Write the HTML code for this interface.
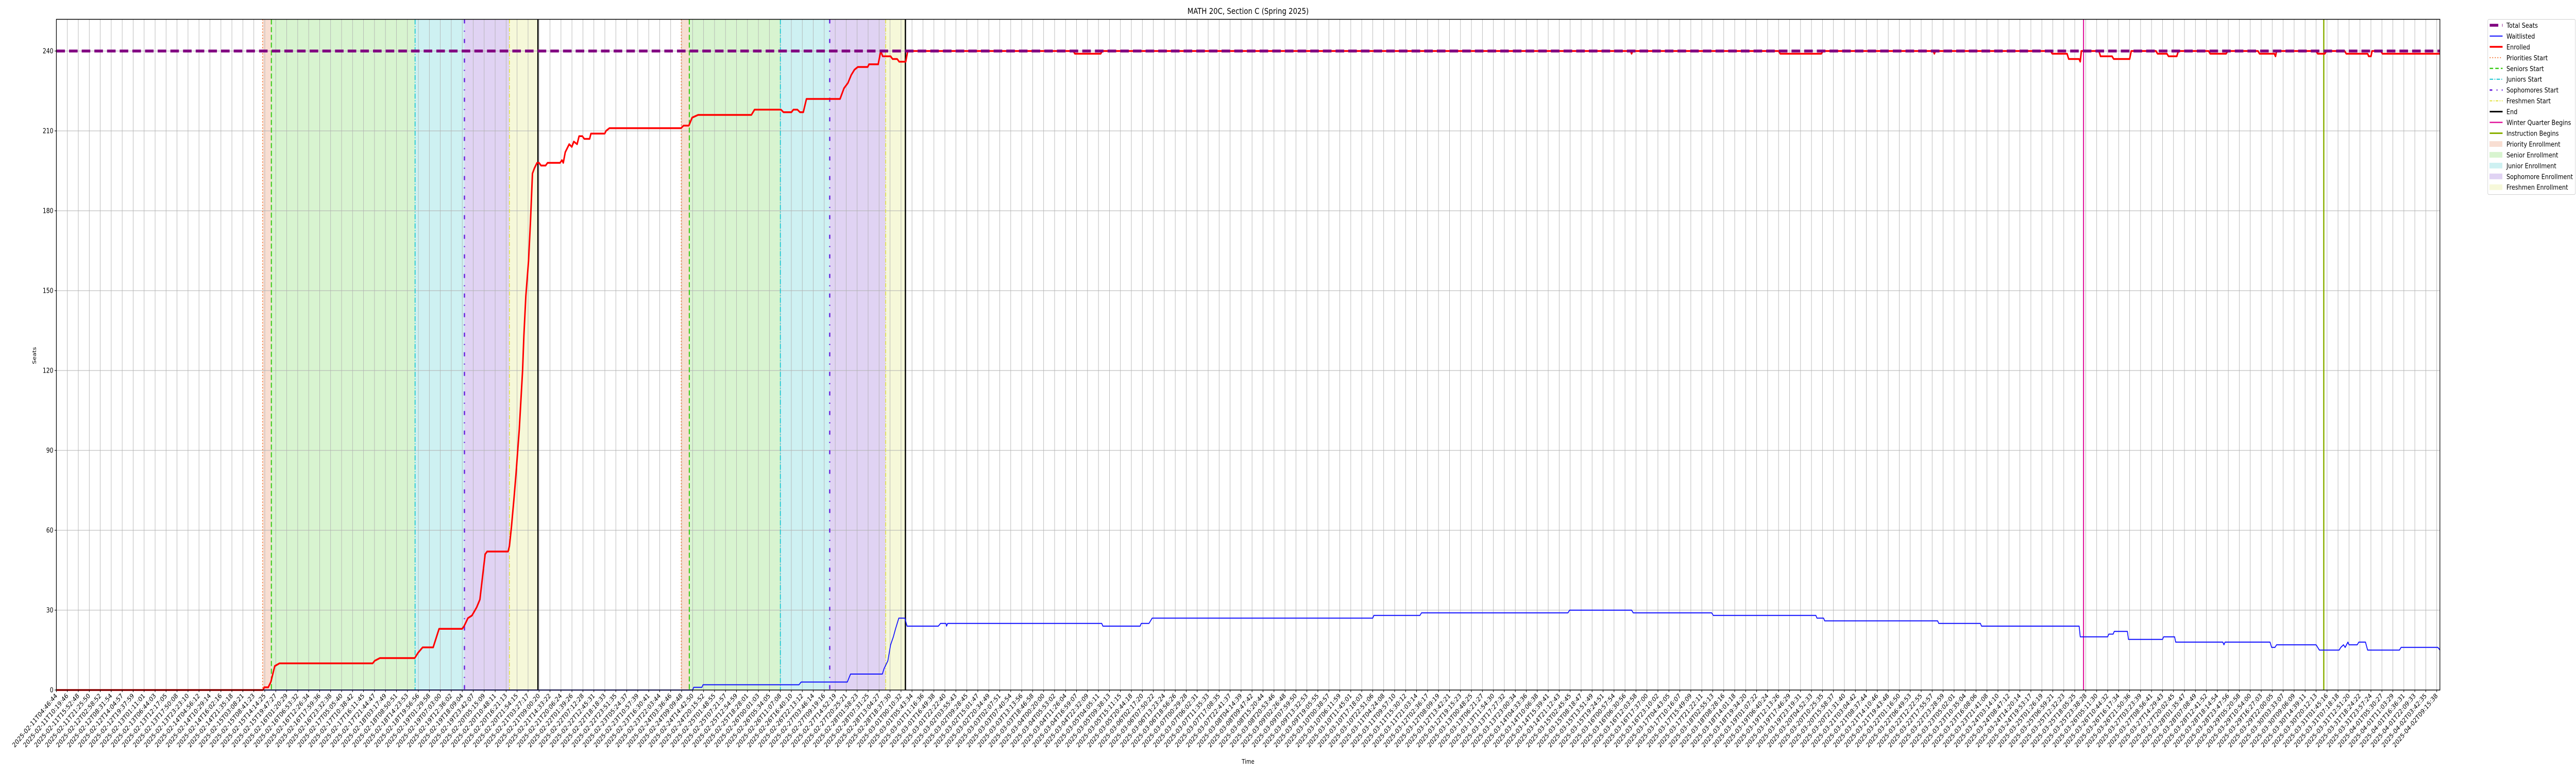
<!DOCTYPE html>
<html><head><meta charset="utf-8">
<style>
html,body{margin:0;padding:0;background:#fff;width:100%;height:100%;overflow:hidden;}
svg{display:block;font-family:"DejaVu Sans","Liberation Sans",sans-serif;overflow:hidden;width:100vw;height:100vh;}
</style></head>
<body>
<svg id="chart" viewBox="0 0 6000 1500" preserveAspectRatio="none" xmlns="http://www.w3.org/2000/svg">
<rect x="0" y="0" width="6000" height="1500" fill="#fff"/>
<text x="2907" y="27" font-size="16" text-anchor="middle" fill="#000">MATH 20C, Section C (Spring 2025)</text>
<text x="84" y="690" font-size="12" text-anchor="middle" transform="rotate(-90 84 690)" fill="#000">Seats</text>
<text x="2907" y="1482" font-size="12" text-anchor="middle" fill="#000">Time</text>
<g id="spans"></g><g id="grid"></g><g id="events"></g><g id="series"></g><g id="axes"></g><g id="legend"></g>
</svg>
<script>
// ---- data ----
const yTicks = [0,30,60,90,120,150,180,210,240];
const tickStartLabel = ["2025-02-11T04:46:44"];
const tickEndLabel = ["2025-04-02T09:15:38"];
const tickCount = [218];
const totalSeats = [240];
const eventNames = ["Priorities Start","Seniors Start","Juniors Start","Sophomores Start","Freshmen Start","End"];
const cycle1Events = [18.8,19.6,32.7,37.2,41.3,43.9];
const cycle2Events = [56.97,57.7,66.0,70.5,75.6,77.4];
const winterStart = [184.8];
const instructionStart = [206.7];
const eIdx = [0,18.83,18.95,19.31,19.55,19.91,20.33,28.83,29.02,29.49,
32.67,32.97,33.39,34.35,34.89,36.99,37.17,37.52,37.89,38.31,
38.61,38.78,39.09,39.27,41.18,41.30,41.48,41.72,41.90,42.20,
42.50,42.62,42.80,43.04,43.22,43.40,43.58,43.82,44.00,44.18,
44.60,44.78,45.91,46.09,46.21,46.39,46.75,46.99,47.17,47.47,
47.65,47.95,48.13,48.61,48.73,49.99,50.11,50.41,56.94,57.18,
57.66,57.96,58.50,63.36,63.65,66.05,66.29,67.01,67.19,67.55,
67.79,68.09,68.38,71.44,71.80,72.16,72.46,72.76,73.06,73.96,
74.08,74.92,75.15,75.33,76.05,76.23,76.65,76.83,77.43,77.61,
92.70,92.85,95.20,95.35,143.5,143.6,143.7,157.0,157.15,160.9,
161.05,171.1,171.2,171.3,181.8,181.95,183.3,183.45,184.4,184.5,
184.6,186.2,186.35,187.4,187.55,189.0,189.15,191.4,191.55,192.4,
192.55,193.3,193.45,196.2,196.35,197.8,197.95,200.7,200.85,202.2,
202.3,202.4,206.0,206.15,206.8,206.95,208.6,208.75,210.7,210.8,
211.0,211.1,211.9,212.05,217.3];
const eVal = [0,0,1,1,3,9,10,10,11,12,
12,14,16,16,23,23,24,27,28,31,
34,40,51,52,52,54,61,72,81,98,
120,133,148,161,176,194,196,198,198,197,
197,198,198,199,198,202,205,204,206,205,
208,208,207,207,209,209,210,211,211,212,
212,215,216,216,218,218,217,217,218,218,
217,217,222,222,226,228,231,233,234,234,
235,235,240,238,238,237,237,236,236,240,
240,239,239,240,240,239,240,240,239,239,
240,240,239,240,240,239,239,237,237,236,
240,240,238,238,237,237,240,240,239,239,
238,238,240,240,239,239,240,240,239,239,
238,240,240,239,239,240,240,239,239,238,
238,240,240,239,239];
const wIdx = [0,58.0,58.1,58.85,58.95,67.7,67.9,72.1,72.4,75.3,
75.45,75.8,76.05,76.3,76.5,76.8,77.35,77.55,80.4,80.6,
81.1,81.15,81.25,95.3,95.4,98.8,98.9,99.6,99.9,120.0,
120.1,124.3,124.45,137.8,137.95,143.6,143.75,150.9,151.05,160.4,
160.5,161.1,161.2,171.5,171.6,175.4,175.5,184.4,184.5,187.0,
187.1,187.5,187.6,188.8,188.9,192.0,192.1,193.1,193.2,197.5,
197.6,197.7,201.8,201.95,202.25,202.4,206.0,206.15,206.3,208.1,
208.25,208.5,208.65,208.9,209.0,209.75,209.9,210.5,210.7,213.6,
213.75,217.1,217.3];
const wVal = [0,0,1,1,2,2,3,3,6,6,
8,11,17,20,23,27,27,24,24,25,
25,24,25,25,24,24,25,25,27,27,
28,28,29,29,30,30,29,29,28,28,
27,27,26,26,25,25,24,24,20,20,
21,21,22,22,19,19,20,20,18,18,
17,18,18,16,16,17,17,16,15,15,
16,17,16,18,17,17,18,18,15,15,
16,16,15];

// ---- layout ----
const L=131.3, R=5683, T=37.5, B=1339;
const PXI=25.55;
function xs(i){return L+i*PXI;}
function ys(v){return B-v*(B-99)/240;}
const NS="http://www.w3.org/2000/svg";
function mk(tag,attrs,parent){const e=document.createElementNS(NS,tag);for(const k in attrs)e.setAttribute(k,attrs[k]);parent.appendChild(e);return e;}
const gSpans=document.getElementById('spans'),gGrid=document.getElementById('grid'),gEv=document.getElementById('events'),gSer=document.getElementById('series'),gAx=document.getElementById('axes'),gLeg=document.getElementById('legend');

// spans
const spanColors=["#f8ded2","#d8f4d0","#cef1f2","#e0d3f3","#f6f8d9"];
const spanNames=["priority-enrollment-span","senior-enrollment-span","junior-enrollment-span","sophomore-enrollment-span","freshmen-enrollment-span"];
[cycle1Events,cycle2Events].forEach((ev,c)=>{
  for(let k=0;k<5;k++){
    const r=mk('rect',{x:xs(ev[k]),y:T,width:xs(ev[k+1])-xs(ev[k]),height:B-T,fill:spanColors[k]},gSpans);
    
    
  }
});

// grid
const nT=tickCount[0];
for(let i=0;i<nT;i++){
  const gl=mk('line',{x1:xs(i),x2:xs(i),y1:T,y2:B,stroke:"#b0b0b0","stroke-width":1},gGrid);
  
  
}
yTicks.forEach(v=>{
  const gl=mk('line',{x1:L,x2:R,y1:ys(v),y2:ys(v),stroke:"#b0b0b0","stroke-width":1},gGrid);
  
  
});

// event lines
const evStyles=[
 {stroke:"#f26b22",w:2,dash:"2,4"},
 {stroke:"#3ccc1a",w:2.5,dash:"10,5"},
 {stroke:"#14c5d0",w:2,dash:"10,3,2,3"},
 {stroke:"#6a22dd",w:3,dash:"8,14,2,14"},
 {stroke:"#e1e13a",w:1.8,dash:"8,3,2,3"},
 {stroke:"#000000",w:3,dash:"none"}];
const evNames=["priorities-start-line","seniors-start-line","juniors-start-line","sophomores-start-line","freshmen-start-line","end-line"];
[cycle1Events,cycle2Events].forEach(ev=>{
  ev.forEach((v,k)=>{
    const s=evStyles[k];
    const ln=mk('line',{x1:xs(v),x2:xs(v),y1:T,y2:B,stroke:s.stroke,"stroke-width":s.w,"stroke-dasharray":s.dash},gEv);
    
    
  });
});
const wl=mk('line',{x1:xs(winterStart[0]),x2:xs(winterStart[0]),y1:T,y2:B,stroke:"#e0129a","stroke-width":2.5},gEv);


const il=mk('line',{x1:xs(instructionStart[0]),x2:xs(instructionStart[0]),y1:T,y2:B,stroke:"#8ab000","stroke-width":3},gEv);



// series
function pts(ix,vs){return ix.map((i,k)=>xs(i).toFixed(1)+","+ys(vs[k]).toFixed(1)).join(" ");}
const wline=mk('polyline',{points:pts(wIdx,wVal),fill:"none",stroke:"#1010ff","stroke-width":2,"stroke-linejoin":"round"},gSer);


const eline=mk('polyline',{points:pts(eIdx,eVal),fill:"none",stroke:"#ff0000","stroke-width":3.5,"stroke-linejoin":"round"},gSer);


const tline=mk('line',{x1:L,x2:R,y1:ys(totalSeats[0]),y2:ys(totalSeats[0]),stroke:"#800080","stroke-width":5.5,"stroke-dasharray":"20,9.5"},gSer);



// axes frame
const fr=mk('rect',{x:L,y:T,width:R-L,height:B-T,fill:"none",stroke:"#000","stroke-width":1.5},gAx);


yTicks.forEach(v=>{
  mk('line',{x1:L-4,x2:L,y1:ys(v),y2:ys(v),stroke:"#000","stroke-width":1.2},gAx);
  const t=mk('text',{x:L-7,y:ys(v)+4.5,"font-size":13,"text-anchor":"end",fill:"#000"},gAx);
  t.textContent=v;
  
  
});
function parseTs(s){return Date.UTC(+s.slice(0,4),+s.slice(5,7)-1,+s.slice(8,10),+s.slice(11,13),+s.slice(14,16),+s.slice(17,19));}
const t0=parseTs(tickStartLabel[0]), t1=parseTs(tickEndLabel[0]);
for(let i=0;i<nT;i++){
  const x=xs(i);
  mk('line',{x1:x,x2:x,y1:B,y2:B+4,stroke:"#000","stroke-width":1.2},gAx);
  let lab;
  if(i===0) lab=tickStartLabel[0]; else if(i===nT-1) lab=tickEndLabel[0];
  else lab=new Date(t0+(t1-t0)*i/(nT-1)).toISOString().slice(0,19);
  const y=B+12;
  const t=mk('text',{x:x+3,y:y,"font-size":13,"text-anchor":"end",fill:"#000",transform:`rotate(-45 ${x+3} ${y})`},gAx);
  t.textContent=lab;
  
  
}

// legend
const lb=mk('rect',{x:5794.5,y:37.5,width:204,height:340,rx:3,fill:"#fff",stroke:"#d0d0d0","stroke-width":1},gLeg);


const legItems=[
 ["Total Seats","line","#800080",5.5,"20,9"],
 ["Waitlisted","line","#1010ff",2,"none"],
 ["Enrolled","line","#ff0000",3.5,"none"],
 ["Priorities Start","line","#f26b22",2,"2,4"],
 ["Seniors Start","line","#3ccc1a",2.5,"8,5"],
 ["Juniors Start","line","#14c5d0",2,"8,3,2,3"],
 ["Sophomores Start","line","#6a22dd",3,"6,10,2,10"],
 ["Freshmen Start","line","#e1e13a",2,"6,3,2,3"],
 ["End","line","#000",3,"none"],
 ["Winter Quarter Begins","line","#e0129a",2.5,"none"],
 ["Instruction Begins","line","#8ab000",3,"none"],
 ["Priority Enrollment","patch","#f8ded2"],
 ["Senior Enrollment","patch","#d8f4d0"],
 ["Junior Enrollment","patch","#cef1f2"],
 ["Sophomore Enrollment","patch","#e0d3f3"],
 ["Freshmen Enrollment","patch","#f6f8d9"]];
legItems.forEach((it,k)=>{
  const cy=49+k*20.95;
  const g=mk('g',{},gLeg);
  
  
  if(it[1]==="line") mk('line',{x1:5799,x2:5829,y1:cy,y2:cy,stroke:it[2],"stroke-width":it[3],"stroke-dasharray":it[4]},g);
  else mk('rect',{x:5799,y:cy-5,width:29,height:10,fill:it[2],stroke:it[2]},g);
  const t=mk('text',{x:5838,y:cy+5,"font-size":13.5,fill:"#000"},g);
  t.textContent=it[0];
});
</script>
</body></html>
